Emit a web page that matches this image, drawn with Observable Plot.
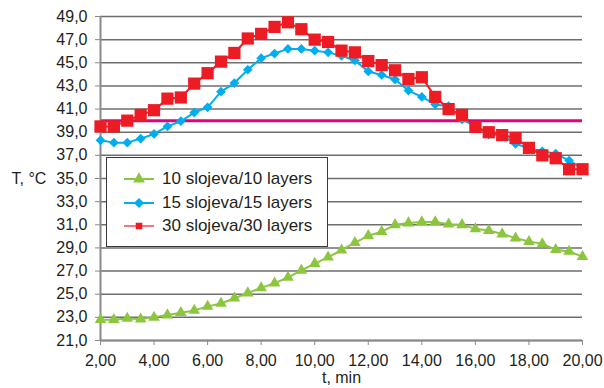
<!DOCTYPE html>
<html>
<head>
<meta charset="utf-8">
<script src="https://cdn.jsdelivr.net/npm/d3@7"></script>
<script src="https://cdn.jsdelivr.net/npm/@observablehq/plot@0.6"></script>
<style>
  body { margin: 0; background: #fff; }
  #wrap { position: relative; width: 604px; height: 388px; font-family: "Liberation Sans", Arial, sans-serif; color: #231f20; }
  #legend { position: absolute; left: 106px; top: 157px; width: 222px; height: 90px; box-sizing: border-box;
            border: 1.5px solid #3a3a3a; background: #fff; }
  .row { position: absolute; left: 0; height: 20px; width: 100%; }
  .row svg { position: absolute; left: 17px; top: 0; }
  .row span { position: absolute; left: 55px; top: 0; line-height: 20px; font-size: 17px; white-space: nowrap; }
</style>
</head>
<body>
<div id="wrap"><div id="chart"></div><div id="legend"></div></div>
<script>
const times = [2,2.5,3,3.5,4,4.5,5,5.5,6,6.5,7,7.5,8,8.5,9,9.5,10,10.5,11,11.5,12,12.5,13,13.5,14,14.5,15,15.5,16,16.5,17,17.5,18,18.5,19,19.5,20];
const layers10 = [22.8,22.8,22.9,22.85,23.0,23.2,23.4,23.6,23.95,24.2,24.65,25.1,25.55,25.95,26.45,27.05,27.65,28.2,28.8,29.45,30.05,30.4,31.0,31.15,31.25,31.25,31.05,31.0,30.65,30.5,30.2,29.85,29.55,29.35,28.85,28.7,28.25];
const layers15 = [38.3,38.1,38.1,38.45,38.85,39.5,39.95,40.7,41.15,42.5,43.25,44.4,45.4,45.8,46.2,46.2,46.05,45.9,45.6,45.2,44.25,43.95,43.55,42.6,42.05,41.4,41.25,40.1,39.5,38.8,38.75,38.0,37.6,37.35,37.15,36.55,35.85];
const layers30 = [39.5,39.5,40.0,40.5,40.9,41.9,42.0,43.2,44.1,45.1,45.85,47.1,47.5,48.1,48.5,47.9,47.0,46.8,46.05,45.9,45.15,44.8,44.35,43.6,43.75,42.05,41.0,40.5,39.45,39.0,38.75,38.5,37.65,37.0,36.75,35.8,35.8];
const seriesNames = ["10 slojeva/10 layers","15 slojeva/15 layers","30 slojeva/30 layers"];
const seriesColors = ["#8cc63f","#00aeef","#ed1c24"];
const seriesSymbols = ["triangle","diamond2","square"];
const xTicks = [2,4,6,8,10,12,14,16,18,20];
const yTicks = [21,23,25,27,29,31,33,35,37,39,41,43,45,47,49];
const limitValue = [40];
const yLabel = "T, °C";
const xLabel = "t, min";

const seriesValues = [layers10, layers15, layers30];
const tables = seriesValues.map(vals => times.map((t, i) => ({t, v: vals[i]})));
const comma = (d, n) => d.toFixed(n).replace(".", ",");
const radii = [4.3, 4.4, 6.9];

const marks = [
  Plot.gridY(yTicks, {stroke: "#6e6e6e", strokeOpacity: 1, strokeWidth: 1.5}),
  Plot.ruleY(limitValue, {stroke: "#e6007e", strokeWidth: 3}),
  Plot.axisX(xTicks, {tickSize: 5, tickPadding: 9, stroke: "#8a8a8a", fill: "#231f20", tickFormat: d => comma(d, 2), label: null, fontSize: 16}),
  Plot.axisY(yTicks, {tickSize: 5, tickPadding: 8, stroke: "#8a8a8a", fill: "#231f20", tickFormat: d => comma(d, 1), label: null, fontSize: 16}),
  Plot.ruleX([2], {stroke: "#8a8a8a", strokeWidth: 2}),
  Plot.ruleY([21], {stroke: "#8a8a8a", strokeWidth: 2})
];
tables.forEach((tb, i) => {
  marks.push(Plot.line(tb, {x: "t", y: "v", stroke: seriesColors[i], strokeWidth: 2}));
  marks.push(Plot.dot(tb, {x: "t", y: "v", symbol: seriesSymbols[i], r: radii[i], fill: seriesColors[i], stroke: "none"}));
});
marks.push(Plot.text([yLabel], {text: d => d, frameAnchor: "left", y: [35], dx: -89, textAnchor: "start", fontSize: 16, fill: "#231f20"}));
marks.push(Plot.text([xLabel], {text: d => d, frameAnchor: "bottom", dy: 42, fontSize: 16, fill: "#231f20"}));

const chart = Plot.plot({
  width: 604, height: 388,
  marginLeft: 100, marginRight: 22, marginTop: 16, marginBottom: 48,
  style: {fontFamily: '"Liberation Sans", Arial, sans-serif', fontSize: "16px", color: "#231f20", background: "#fff", overflow: "visible"},
  x: {domain: [2, 20]},
  y: {domain: [21, 49]},
  marks
});
document.getElementById("chart").appendChild(chart);

// legend
const legend = document.getElementById("legend");
const rowTops = [11, 34.5, 58];
seriesNames.forEach((name, i) => {
  const row = document.createElement("div");
  row.className = "row";
  row.style.top = rowTops[i] + "px";
  const sym = d3.symbol().type({triangle: d3.symbolTriangle, diamond2: d3.symbolDiamond2, square: d3.symbolSquare}[seriesSymbols[i]])
    .size(Math.PI * [4.4, 4.6, 3.7][i] ** 2)();
  row.innerHTML = `<svg width="30" height="20"><line x1="0" x2="30" y1="10" y2="10" stroke="${seriesColors[i]}" stroke-width="${i === 2 ? 1.2 : 2}"/><path transform="translate(15,10)" d="${sym}" fill="${seriesColors[i]}"/></svg><span>${name}</span>`;
  legend.appendChild(row);
});
</script>
</body>
</html>
